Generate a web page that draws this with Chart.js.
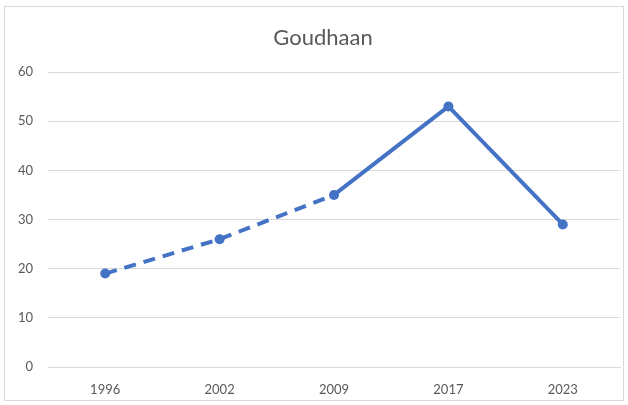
<!DOCTYPE html>
<html>
<head>
<meta charset="utf-8">
<style>
  html, body { margin: 0; padding: 0; background: #ffffff; }
  #wrap { position: relative; width: 628px; height: 405px; }
</style>
<script src="https://cdn.jsdelivr.net/npm/chart.js@4/dist/chart.umd.min.js"></script>
</head>
<body>
<div id="wrap"><canvas id="chart" width="628" height="405"></canvas></div>
<script>
// Survey years and counted birds (Goudhaan)
const years = ['1996', '2002', '2009', '2017', '2023'];
const counts = [19, 26, 35, 53, 29];
// Segments up to this index are drawn dashed (estimated counts)
const dashedUntil = 2;

const lineBlue = '#4472C4';
const textGrey = '#595959';
const gridGrey = '#d9d9d9';
const fontFamily = 'Lato, "Liberation Sans", sans-serif';

// Thin frame around the whole chart; title centred over the framed area
const framePlugin = {
  id: 'frame',
  afterLayout(chart) {
    if (chart.titleBlock) {
      chart.titleBlock.left = 26;
      chart.titleBlock.right = 620;
    }
  },
  beforeDraw(chart) {
    const ctx = chart.ctx;
    ctx.save();
    ctx.strokeStyle = '#d9d9d9';
    ctx.lineWidth = 1;
    ctx.strokeRect(4.5, 6.5, 619, 394);
    ctx.restore();
  }
};

new Chart(document.getElementById('chart'), {
  type: 'line',
  data: {
    labels: years,
    datasets: [{
      data: counts,
      borderColor: lineBlue,
      backgroundColor: lineBlue,
      borderWidth: 4,
      pointRadius: 5,
      pointHoverRadius: 5,
      pointBorderWidth: 0,
      tension: 0,
      segment: {
        borderDash: ctx => ctx.p1DataIndex <= dashedUntil ? [12, 8] : undefined
      }
    }]
  },
  options: {
    responsive: false,
    animation: false,
    layout: { padding: { left: 0, right: 8, top: 0, bottom: 8 } },
    plugins: {
      legend: { display: false },
      tooltip: { enabled: false },
      title: {
        display: true,
        text: 'Goudhaan',
        color: textGrey,
        font: { family: fontFamily, size: 22, weight: 'normal' },
        padding: { top: 25, bottom: 20.6 }
      }
    },
    scales: {
      x: {
        offset: true,
        grid: { display: false, drawTicks: false },
        border: { display: true, color: gridGrey, width: 1 },
        ticks: {
          color: textGrey,
          font: { family: fontFamily, size: 13 },
          padding: 15
        },
        afterFit(scale) { scale.height = 30; }
      },
      y: {
        min: 0,
        max: 60,
        grid: { color: gridGrey, lineWidth: 1, drawTicks: false },
        border: { display: false },
        ticks: {
          stepSize: 10,
          color: textGrey,
          font: { family: fontFamily, size: 13 },
          padding: 15
        },
        afterFit(scale) { scale.width = 48; }
      }
    }
  },
  plugins: [framePlugin]
});
</script>
</body>
</html>
